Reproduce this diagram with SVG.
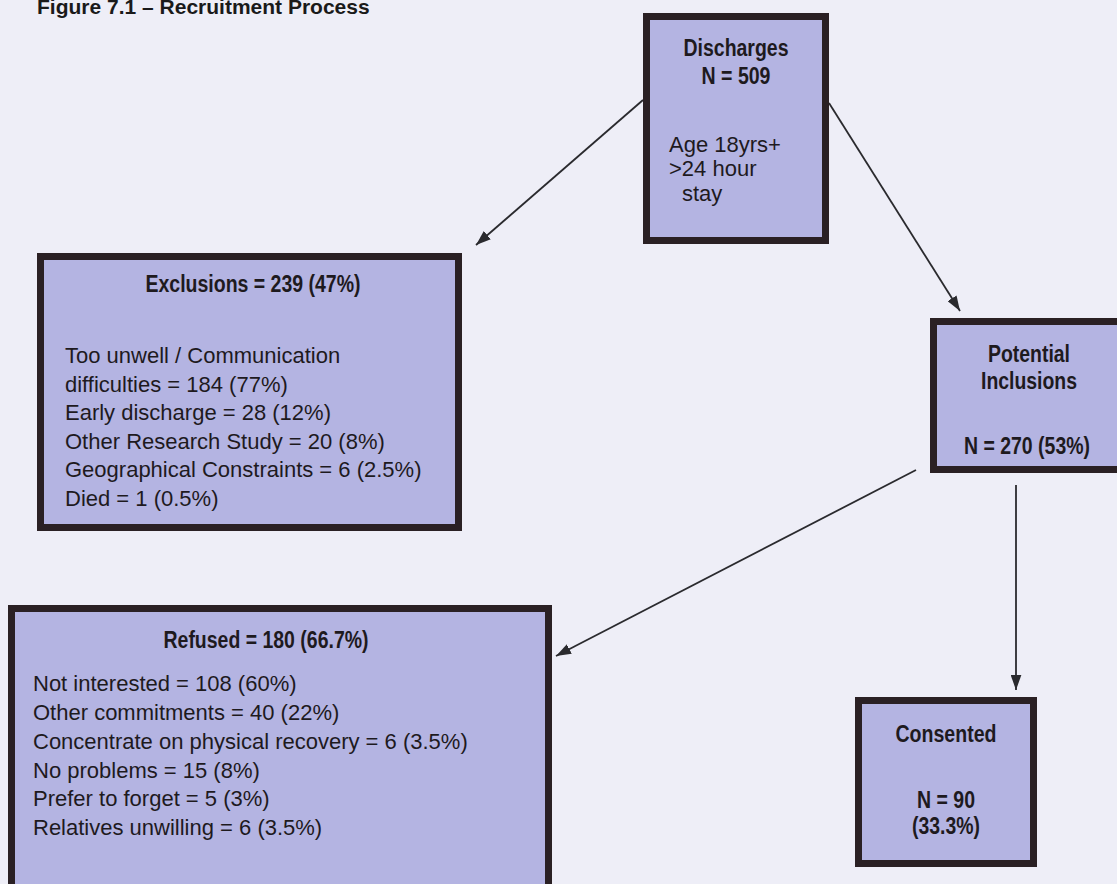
<svg xmlns="http://www.w3.org/2000/svg" width="1117" height="884" viewBox="0 0 1117 884">
  <style>
    .box { fill: #b4b4e2; stroke: #2a2024; stroke-width: 7; }
    .head { font-family: "Liberation Sans", Arial, sans-serif; font-weight: bold; font-size: 23px; fill: #1e1a1e; }
    .body { font-family: "Liberation Sans", Arial, sans-serif; font-size: 22px; fill: #1e1a1e; }
    .title { font-family: "Liberation Sans", Arial, sans-serif; font-weight: bold; font-size: 21px; fill: #1a1a1a; }
    .link { fill: none; stroke: #2a2a2e; stroke-width: 1.8; marker-end: url(#arrow); }
  </style>
  <defs>
    <marker id="arrow" viewBox="0 0 14 10" refX="14" refY="5" markerWidth="15" markerHeight="11" markerUnits="userSpaceOnUse" orient="auto">
      <path d="M0,0 L14,5 L0,10 z" fill="#2a2a2e"/>
    </marker>
  </defs>

  <!-- page background -->
  <rect x="0" y="0" width="1117" height="884" fill="#eeeef7"/>

  <text class="title" x="37" y="14">Figure 7.1 – Recruitment Process</text>

  <!-- connectors -->
  <g id="connectors">
    <line class="link" x1="643" y1="100" x2="476" y2="245"/>
    <line class="link" x1="829" y1="103" x2="960" y2="311"/>
    <line class="link" x1="916" y1="470" x2="556" y2="656"/>
    <line class="link" x1="1016" y1="485" x2="1016" y2="690"/>
  </g>

  <!-- headings are narrowed with textLength to a condensed bold face -->
  <g id="node-discharges">
    <rect class="box" x="646.5" y="16.5" width="179" height="224"/>
    <text class="head" x="736" y="56" text-anchor="middle" textLength="105" lengthAdjust="spacingAndGlyphs">Discharges</text>
    <text class="head" x="736" y="84" text-anchor="middle" textLength="69" lengthAdjust="spacingAndGlyphs">N = 509</text>
    <text class="body" x="669" y="152">Age 18yrs+</text>
    <text class="body" x="669" y="176">&gt;24 hour</text>
    <text class="body" x="682" y="201">stay</text>
  </g>

  <g id="node-exclusions">
    <rect class="box" x="40.5" y="256.5" width="418" height="271"/>
    <text class="head" x="253" y="292" text-anchor="middle" textLength="215" lengthAdjust="spacingAndGlyphs">Exclusions = 239 (47%)</text>
    <text class="body" x="65" y="363">Too unwell / Communication</text>
    <text class="body" x="65" y="392">difficulties = 184 (77%)</text>
    <text class="body" x="65" y="420">Early discharge = 28 (12%)</text>
    <text class="body" x="65" y="449">Other Research Study = 20 (8%)</text>
    <text class="body" x="65" y="477">Geographical Constraints = 6 (2.5%)</text>
    <text class="body" x="65" y="506">Died = 1 (0.5%)</text>
  </g>

  <g id="node-potential">
    <rect class="box" x="933.5" y="321.5" width="194" height="148"/>
    <text class="head" x="1029" y="362" text-anchor="middle" textLength="82" lengthAdjust="spacingAndGlyphs">Potential</text>
    <text class="head" x="1029" y="389" text-anchor="middle" textLength="96" lengthAdjust="spacingAndGlyphs">Inclusions</text>
    <text class="head" x="1027" y="454" text-anchor="middle" textLength="126" lengthAdjust="spacingAndGlyphs">N = 270 (53%)</text>
  </g>

  <g id="node-refused">
    <rect class="box" x="11.5" y="608.5" width="537" height="290"/>
    <text class="head" x="266" y="648" text-anchor="middle" textLength="205" lengthAdjust="spacingAndGlyphs">Refused = 180 (66.7%)</text>
    <text class="body" x="33" y="691">Not interested = 108 (60%)</text>
    <text class="body" x="33" y="720">Other commitments = 40 (22%)</text>
    <text class="body" x="33" y="749">Concentrate on physical recovery = 6 (3.5%)</text>
    <text class="body" x="33" y="778">No problems = 15 (8%)</text>
    <text class="body" x="33" y="806">Prefer to forget = 5 (3%)</text>
    <text class="body" x="33" y="835">Relatives unwilling = 6 (3.5%)</text>
  </g>

  <g id="node-consented">
    <rect class="box" x="858.5" y="700.5" width="175" height="163"/>
    <text class="head" x="946" y="742" text-anchor="middle" textLength="101" lengthAdjust="spacingAndGlyphs">Consented</text>
    <text class="head" x="946" y="808" text-anchor="middle" textLength="58" lengthAdjust="spacingAndGlyphs">N = 90</text>
    <text class="head" x="946" y="834" text-anchor="middle" textLength="68" lengthAdjust="spacingAndGlyphs">(33.3%)</text>
  </g>
</svg>
